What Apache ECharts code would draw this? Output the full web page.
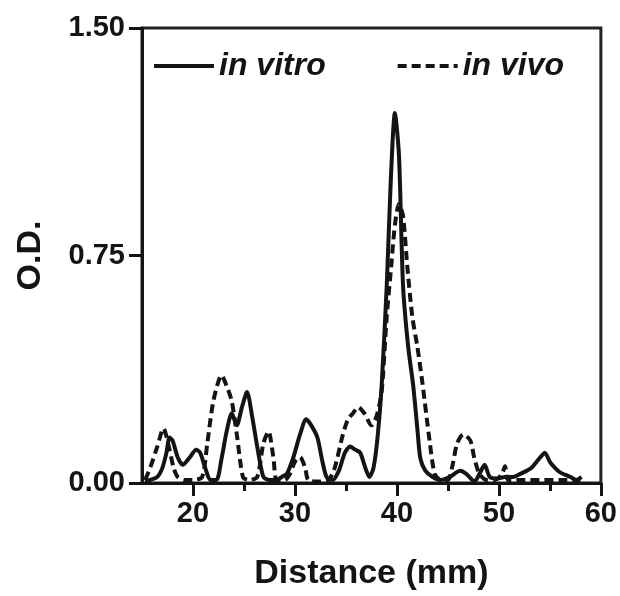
<!DOCTYPE html>
<html>
<head>
<meta charset="utf-8">
<script src="https://cdn.jsdelivr.net/npm/echarts@6/dist/echarts.min.js"></script>
<style>
html, body { margin: 0; padding: 0; background: #fff; }
#chart { width: 620px; height: 596px; }
</style>
</head>
<body>
<div id="chart"></div>
<script>
// distance (mm) and optical density
const vitroX = [15.3, 15.8, 16.5, 17.0, 17.4, 17.7, 18.0, 18.5, 19.0, 19.7, 20.3, 20.7, 21.2, 21.7, 22.3, 22.8, 23.3, 23.8, 24.3, 24.8, 25.3, 25.8, 26.3, 26.9, 27.5, 28.2, 28.7, 29.2, 29.8, 30.5, 31.1, 31.6, 32.2, 32.7, 33.1, 33.7, 34.3, 34.9, 35.4, 35.9, 36.4, 36.9, 37.3, 37.7, 38.1, 38.5, 39.0, 39.4, 39.8, 40.2, 40.6, 41.1, 41.6, 42.0, 42.3, 42.8, 43.5, 44.3, 45.2, 46.2, 46.8, 47.6, 48.1, 48.6, 49.1, 49.8, 50.6, 51.4, 52.1, 52.7, 53.2, 53.7, 54.2, 54.5, 55.0, 55.5, 56.0, 57.0, 57.6, 58.1]
const vitroY = [0.005, 0.01, 0.02, 0.05, 0.10, 0.15, 0.14, 0.085, 0.06, 0.085, 0.11, 0.10, 0.05, 0.01, 0.01, 0.08, 0.17, 0.23, 0.19, 0.25, 0.30, 0.22, 0.12, 0.02, 0.01, 0.01, 0.02, 0.03, 0.08, 0.16, 0.21, 0.19, 0.15, 0.07, 0.02, 0.01, 0.04, 0.10, 0.12, 0.11, 0.10, 0.05, 0.02, 0.05, 0.15, 0.32, 0.65, 1.00, 1.22, 1.08, 0.65, 0.45, 0.32, 0.18, 0.08, 0.04, 0.02, 0.01, 0.02, 0.04, 0.03, 0.005, 0.03, 0.06, 0.02, 0.015, 0.02, 0.02, 0.03, 0.04, 0.05, 0.07, 0.09, 0.10, 0.07, 0.05, 0.035, 0.02, 0.01, 0.02]
const vivoX = [15.3, 15.8, 16.5, 17.1, 17.7, 18.1, 18.5, 19.2, 20.0, 20.9, 21.4, 22.0, 22.8, 23.3, 23.8, 24.3, 24.9, 25.5, 26.3, 26.9, 27.4, 27.9, 28.2, 29.0, 29.5, 30.0, 30.5, 31.0, 31.3, 32.3, 33.3, 33.9, 34.7, 35.2, 35.7, 36.2, 36.8, 37.5, 38.0, 38.5, 39.0, 39.4, 39.8, 40.2, 40.6, 41.0, 41.5, 42.0, 42.5, 43.2, 43.7, 44.3, 45.0, 45.4, 45.9, 46.5, 47.2, 47.6, 48.1, 48.8, 49.6, 50.3, 50.6, 50.9, 52.0, 54.0, 56.0, 58.0]
const vivoY = [0.01, 0.05, 0.12, 0.18, 0.11, 0.05, 0.02, 0.01, 0.01, 0.02, 0.13, 0.27, 0.355, 0.32, 0.27, 0.16, 0.02, 0.01, 0.02, 0.13, 0.17, 0.08, 0.01, 0.01, 0.03, 0.07, 0.085, 0.05, 0.01, 0.005, 0.01, 0.05, 0.16, 0.21, 0.23, 0.25, 0.23, 0.19, 0.22, 0.30, 0.55, 0.70, 0.85, 0.92, 0.88, 0.72, 0.55, 0.45, 0.33, 0.14, 0.03, 0.01, 0.01, 0.05, 0.13, 0.16, 0.14, 0.08, 0.03, 0.01, 0.01, 0.03, 0.055, 0.01, 0.01, 0.01, 0.01, 0.01]
const majorTicks = [20, 30, 40, 50, 60]
const minorTicks = [25, 35, 45, 55]

const zip = (xs, ys) => xs.map((x, i) => [x, ys[i]])
const ink = '#141414'
const font = 'Liberation Sans, Arial, sans-serif'

const chart = echarts.init(document.getElementById('chart'))
chart.setOption({
    animation: false,
    grid: {
        left: 142,
        right: 19,
        top: 28,
        bottom: 107,
        show: true,
        borderColor: '#222',
        borderWidth: 3,
    },
    legend: {
        left: 147,
        top: 45,
        itemWidth: 60,
        itemHeight: 14,
        itemGap: 70,
        itemStyle: { opacity: 0 },
        lineStyle: { width: 4 },
        textStyle: {
            fontFamily: font,
            fontSize: 32,
            fontWeight: 'bold',
            fontStyle: 'italic',
            color: ink,
        },
        data: ['in vitro', 'in vivo'],
    },
    xAxis: [
        {
            type: 'value',
            min: 15,
            max: 60,
            interval: 5,
            splitLine: { show: false },
            axisLine: { lineStyle: { color: ink, width: 3 } },
            axisTick: {
                customValues: majorTicks,
                length: 13,
                lineStyle: { color: ink, width: 3 },
            },
            axisLabel: {
                customValues: majorTicks,
                margin: 16,
                fontFamily: font,
                fontSize: 29,
                fontWeight: 'bold',
                color: ink,
            },
            name: 'Distance (mm)',
            nameLocation: 'middle',
            nameGap: 74,
            nameTextStyle: {
                fontFamily: font,
                fontSize: 34,
                fontWeight: 'bold',
                color: ink,
            },
        },
        {
            type: 'value',
            position: 'bottom',
            min: 15,
            max: 60,
            interval: 5,
            splitLine: { show: false },
            axisLine: { show: false },
            axisTick: {
                customValues: minorTicks,
                length: 8,
                lineStyle: { color: ink, width: 3 },
            },
            axisLabel: { show: false },
        },
    ],
    yAxis: {
        type: 'value',
        min: 0,
        max: 1.5,
        interval: 0.75,
        splitLine: { show: false },
        axisLine: { show: true, lineStyle: { color: ink, width: 3 } },
        axisTick: { show: true, length: 13, lineStyle: { color: ink, width: 3 } },
        axisLabel: {
            margin: 17,
            fontFamily: font,
            fontSize: 29,
            fontWeight: 'bold',
            color: ink,
            formatter: v => v.toFixed(2),
        },
        name: 'O.D.',
        nameLocation: 'middle',
        nameGap: 94,
        nameTextStyle: {
            fontFamily: font,
            fontSize: 34,
            fontWeight: 'bold',
            color: ink,
        },
    },
    series: [
        {
            name: 'in vitro',
            type: 'line',
            smooth: 0.25,
            symbol: 'none',
            lineStyle: { color: ink, width: 4 },
            itemStyle: { color: ink },
            data: zip(vitroX, vitroY),
        },
        {
            name: 'in vivo',
            type: 'line',
            smooth: 0.25,
            symbol: 'none',
            lineStyle: { color: ink, width: 4, type: [9, 5] },
            itemStyle: { color: ink },
            data: zip(vivoX, vivoY),
        },
    ],
})
</script>
</body>
</html>
